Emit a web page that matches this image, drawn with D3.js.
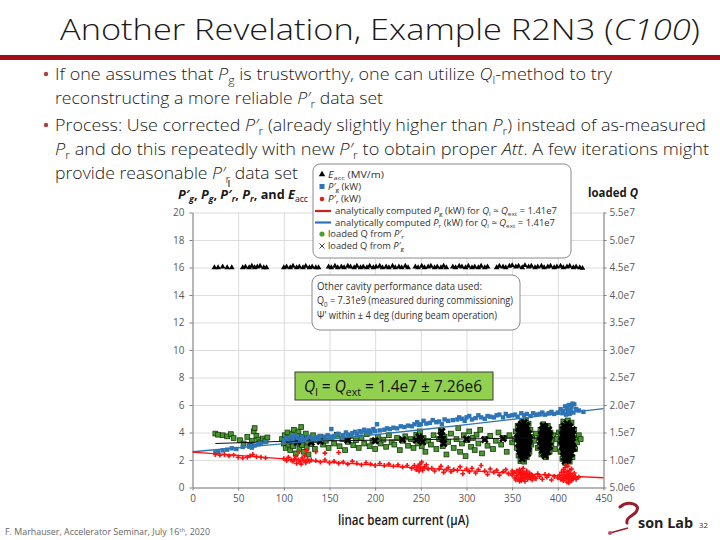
<!DOCTYPE html>
<html>
<head>
<meta charset="utf-8">
<script src="https://cdn.jsdelivr.net/npm/d3@7"></script>
<style>
  body { margin: 0; background: #fff; }
  svg { display: block; }
  .axis text { font-family: "Open Sans", sans-serif; font-size: 10px; fill: #595959; }
  .axis path, .axis line { stroke: #808080; }
  .grid line { stroke: #dcdcdc; }
  .grid path { display: none; }
</style>
</head>
<body>
<div id="slide"></div>
<script>
// tick values / labels
var xTicks = [0, 50, 100, 150, 200, 250, 300, 350, 400, 450];
var yLeftTicks = [0, 2, 4, 6, 8, 10, 12, 14, 16, 18, 20];
var yRightTicks = [0.5, 1, 1.5, 2, 2.5, 3, 3.5, 4, 4.5, 5, 5.5];   // loaded Q in units of 1e7
var yRightLabels = ["5.0e6", "1.0e7", "1.5e7", "2.0e7", "2.5e7", "3.0e7", "3.5e7", "4.0e7", "4.5e7", "5.0e7", "5.5e7"];

// analytic curves (kW), read at every 50 uA
var curveX = [0, 50, 100, 150, 200, 250, 300, 350, 400, 450];
var curvePg = [2.60, 2.89, 3.19, 3.51, 3.85, 4.20, 4.57, 4.95, 5.35, 5.74];
var curvePr = [2.58, 2.33, 2.08, 1.84, 1.62, 1.41, 1.22, 1.04, 0.87, 0.71];

// loaded Q trend line (1e7)
var qFit = [[25, 1.30], [100, 1.34], [250, 1.37], [385, 1.405]];

// Eacc (MV/m)
var eacc = [[24,16.0],[28,16.0],[33,16.05],[38,16.0],[43,16.0],
  [55,16.0],[58,16.05],[62,16.0],[65,16.1],[68,16.0],[71,16.05],[74,16.1],[78,16.0],[81,16.0],
  [100,16.0],[103,16.05],[107,16.0],[110,16.1],[114,16.0],[117,16.05],[121,16.0],[124,16.1],[128,16.0],[131,16.05],[135,16.0],[138,16.0],
  [149,16.05],[152,16.0],[156,16.1],[159,16.0],[163,16.05],[166,16.0],[170,16.1],[173,16.05],[177,16.0],[180,16.1],[184,16.0],[187,16.05],
  [191,16.0],[194,16.1],[198,16.0],[201,16.05],[205,16.1],[208,16.0],[212,16.05],[215,16.0],[219,16.1],[222,16.0],[226,16.05],[229,16.0],
  [233,16.1],[236,16.0],[244,16.05],[247,16.0],[251,16.1],[254,16.0],[258,16.05],[261,16.1],[265,16.0],[268,16.05],[272,16.0],[275,16.1],
  [278,16.0],[285,16.05],[288,16.0],[292,16.1],[295,16.05],[299,16.0],[302,16.1],[306,16.0],[309,16.05],[313,16.0],[316,16.1],[320,16.0],
  [323,16.05],[333,16.0],[336,16.1],[340,16.05],[343,16.0],[347,16.1],[350,16.15],[354,16.05],[357,16.1],[361,16.0],[364,16.15],[368,16.05],
  [371,16.1],[375,16.0],[378,16.05],[382,16.1],[385,16.0],[389,16.05],[392,16.1],[396,16.0],[399,16.05],[403,16.1],[406,16.0],[410,16.05],
  [413,16.1],[417,16.0],[420,16.05],[424,16.0],[427,15.95]];

// P'g (kW)
var pgPrime = [[25,2.55],[28,2.6],[33,2.7],[38,2.75],[43,2.85],[48,2.8],[55,2.95],[62,3.0],[65,2.9],[68,3.05],[72,3.15],[75,3.2],[80,3.3],
  [100,3.4],[102,3.6],[105,3.5],[108,3.7],[110,3.55],[112,3.8],[115,3.6],[118,3.5],[120,3.7],[122,3.45],[125,3.6],[128,3.7],[132,3.55],
  [135,3.65],[138,3.6],[140,3.75],[145,3.7],[148,3.8],[150,3.7],[152,4.25],[155,3.75],[160,3.9],[165,3.8],[168,4.0],[170,3.85],[175,3.95],
  [178,4.05],[180,3.9],[183,4.1],[185,4.0],[188,4.2],[190,4.05],[193,4.15],[195,4.0],[198,4.25],[200,4.1],[202,4.6],[205,4.15],[210,4.2],
  [213,4.3],[216,4.25],[220,4.35],[224,4.3],[228,4.45],[232,4.4],[236,4.5],[240,4.45],[243,4.6],[246,4.75],[248,4.55],[250,4.6],[253,4.85],
  [256,4.65],[260,4.7],[263,4.9],[267,4.75],[270,4.8],[273,4.6],[276,4.95],[280,4.85],[285,4.9],[290,4.95],[292,5.1],[295,5.0],[298,4.85],
  [300,5.1],[303,5.2],[306,4.95],[310,5.05],[313,5.25],[316,5.1],[320,5.0],[323,5.2],[326,5.15],[330,5.1],[333,5.25],[336,5.3],[340,5.1],
  [343,5.35],[346,5.2],[350,5.25],[353,5.3],[356,5.15],[360,5.4],[363,5.25],[366,5.35],[370,5.2],[373,5.4],[376,5.3],[380,5.35],[383,5.45],
  [386,5.3],[390,5.4],[393,5.5],[396,5.35],[400,5.45],[403,5.7],[405,5.4],[406,5.55],[408,5.9],[409,5.3],[410,5.75],[411,5.5],[412,6.0],
  [413,5.35],[414,5.65],[415,5.85],[416,6.1],[417,5.45],[418,6.05],[420,5.7],[423,5.6],[428,5.5]];

// P'r (kW)
var prPrime = [[25,2.4],[30,2.35],[35,2.4],[40,2.3],[45,2.35],[50,2.2],[55,2.15],[60,2.2],[63,2.3],[66,2.4],[70,2.25],[75,2.2],[80,2.15],
  [100,2.1],[103,1.95],[105,2.2],[108,2.0],[110,1.9],[112,2.1],[113,2.25],[114,1.75],[116,2.0],[117,2.6],[118,1.85],[119,1.7],[120,2.15],
  [122,1.95],[123,2.3],[124,1.8],[125,2.7],[126,2.05],[128,1.9],[130,2.0],[135,2.6],[145,2.5],[160,2.55],
  [135,1.95],[140,1.85],[145,2.0],[150,1.8],[155,1.9],[160,1.75],[165,1.85],[170,1.7],[175,1.9],[180,1.75],[185,1.65],[190,1.8],[195,1.7],
  [200,1.6],[205,1.75],[210,1.6],[215,1.7],[220,1.55],[225,1.65],[230,1.5],[235,1.6],
  [240,1.4],[243,1.6],[245,1.3],[247,1.55],[248,1.2],[249,1.7],[250,1.4],[251,1.85],[252,1.25],[254,1.5],[256,1.65],[258,1.35],
  [262,1.4],[265,1.2],[270,1.35],[272,1.55],[275,1.1],[278,1.3],[280,1.45],[283,1.15],[286,1.3],[290,1.25],[293,1.5],[296,1.0],[300,1.35],
  [303,1.15],[306,1.4],[310,1.05],[313,1.3],[316,1.6],[320,1.2],[323,0.95],[326,1.35],[330,1.1],[333,1.25],[336,0.9],[340,1.15],[343,1.3],
  [346,1.0],[350,1.2],
  [350,0.9],[352,1.1],[353,0.7],[355,1.2],[355,0.85],[357,0.6],[357,1.0],[358,1.3],[359,0.75],[360,0.5],[360,0.95],[361,1.15],[362,0.65],
  [363,0.85],[363,1.05],[364,0.45],[365,0.75],[366,1.2],[366,0.95],[367,0.6],[368,0.85],[369,1.05],[370,0.7],[371,0.9],[372,0.55],[374,0.8],
  [376,0.65],[362,1.4],[358,0.45],[354,0.55],[361,0.7],[365,1.0],[359,1.1],[367,0.8],
  [372,0.9],[375,0.7],[378,1.0],[380,0.8],[383,0.6],[386,0.95],[388,0.75],[390,0.9],[393,0.55],[396,0.8],[400,0.7],
  [402,0.9],[403,0.6],[404,1.1],[405,0.75],[406,1.3],[406,0.5],[407,0.95],[408,1.45],[408,0.65],[409,0.8],[410,1.15],[410,0.4],[411,1.55],
  [411,0.9],[412,0.6],[413,1.25],[413,0.75],[414,1.0],[415,0.5],[415,1.35],[416,0.85],[417,0.65],[418,1.05],[419,0.8],[420,0.6],[409,1.6],
  [412,0.35],[410,0.7],[414,0.6],[407,1.1],[412,1.0],[420,0.7],[423,0.75]];

// loaded Q from P'r (1e7)
var qFromPr = [[25,1.48],[28,1.46],[33,1.45],[38,1.43],[42,1.47],[45,1.40],[52,1.36],[56,1.30],[60,1.42],[63,1.26],[65,1.35],[67,1.52],
  [68,1.58],[70,1.44],[72,1.37],[74,1.32],[77,1.39],[80,1.35],[82,1.41],
  [98,1.38],[100,1.30],[101,1.45],[102,1.22],[103,1.36],[104,1.50],[105,1.28],[106,1.41],[107,1.18],[108,1.33],[109,1.47],[110,1.25],
  [111,1.55],[112,1.38],[113,1.12],[114,1.30],[115,1.44],[116,1.52],[117,1.20],[118,1.35],[119,1.60],[120,1.27],[121,1.42],[122,1.15],
  [123,1.37],[124,1.48],[125,1.23],[126,1.33],[127,1.10],[128,1.40],[130,1.29],[132,1.45],[134,1.20],[136,1.36],
  [140,1.42],[143,1.28],[146,1.35],[149,1.22],[152,1.40],[155,1.30],[158,1.46],[161,1.25],[164,1.38],[167,1.18],[170,1.33],[173,1.44],
  [176,1.27],[179,1.36],[182,1.22],[185,1.40],[188,1.30],[191,1.47],[194,1.25],[197,1.35],[200,1.20],[203,1.42],[206,1.30],[209,1.37],
  [212,1.24],[215,1.45],[218,1.32],[221,1.28],[224,1.40],[227,1.18],[230,1.35],[233,1.43],[236,1.26],[239,1.38],[242,1.22],[245,1.46],
  [247,1.30],[249,1.52],[251,1.25],[253,1.40],[255,1.15],
  [258,1.35],[261,1.28],[264,1.45],[267,1.20],[270,1.38],[272,1.55],[274,1.25],[276,1.42],[278,1.10],[280,1.33],[283,1.48],[286,1.22],
  [289,1.38],[291,1.58],[293,1.15],[295,1.30],[297,1.45],[299,1.07],[301,1.36],[303,1.52],[305,1.24],[307,1.40],[309,1.18],[311,1.46],
  [313,1.30],[315,1.55],[317,1.12],[320,1.38],[323,1.26],[326,1.44],[329,1.20],[332,1.35],[335,1.50],[338,1.28],[341,1.40],[344,1.15],
  [347,1.45],[350,1.32],
  [353,1.38],[354,1.52],[355,1.22],[356,1.62],[357,1.08],[359,0.98],[361,1.70],[363,0.97],[366,1.05],[368,1.66],[369,1.15],[370,1.55],
  [371,1.28],[372,1.42],[365,1.72],
  [374,1.35],[376,1.48],[378,1.22],[380,1.40],[393,1.30],[395,1.45],[397,1.20],[399,1.38],[401,1.50],
  [380,1.25],[381,1.55],[382,1.10],[384,1.65],[387,1.05],[389,1.62],[391,1.15],[392,1.50],[393,1.35],
  [402,1.30],[403,1.48],[403,1.15],[404,1.60],[405,1.02],[406,1.70],[408,0.95],[411,1.72],[413,0.97],[415,1.68],[416,1.05],[418,1.55],
  [419,1.20],[419,1.40],[421,1.32],[423,1.45],[425,1.38]];

// loaded Q from P'g (1e7)
var qFromPg = [[105,1.35],[115,1.33],[120,1.38],[130,1.32],[140,1.34],[170,1.36],[200,1.35],[230,1.37],[245,1.36],[248,1.42],[250,1.38],
  [252,1.33],[272,1.45],[273,1.52],[274,1.38],[275,1.30],[300,1.38],[320,1.37],[340,1.39],
  [356,1.40],[357,1.30],[357,1.50],[358,1.20],[358,1.60],[359,1.35],[359,1.45],[360,1.10],[360,1.25],[360,1.55],[360,1.65],[361,1.38],
  [361,1.02],[362,1.15],[362,1.30],[362,1.48],[362,1.60],[363,1.42],[363,1.22],[364,1.08],[364,1.35],[364,1.55],[365,1.28],[365,1.50],
  [366,1.18],[366,1.42],[366,1.62],[367,1.32],[368,1.25],[368,1.48],[369,1.38],[367,1.12],[363,1.68],[361,1.52],[359,1.25],
  [358,1.38],[359,1.55],[360,1.40],[360,1.32],[361,1.20],[361,1.62],[362,1.08],[362,1.40],[363,1.52],[363,1.32],[364,1.18],[364,1.45],
  [365,1.62],[365,1.38],[366,1.28],[366,1.52],[367,1.42],[367,1.22],[368,1.35],[359,1.15],[357,1.40],[360,1.48],[365,1.12],
  [381,1.35],[382,1.45],[382,1.25],[383,1.55],[383,1.18],[384,1.38],[385,1.30],[385,1.50],[385,1.12],[386,1.42],[386,1.60],[387,1.22],
  [387,1.35],[388,1.48],[388,1.28],[389,1.40],[389,1.15],[390,1.55],[390,1.33],[391,1.25],[391,1.45],[384,1.62],[386,1.08],
  [382,1.35],[383,1.28],[383,1.45],[384,1.20],[384,1.50],[385,1.40],[386,1.25],[387,1.52],[387,1.15],[388,1.38],[389,1.30],[389,1.50],
  [390,1.42],[385,1.58],[386,1.33],
  [404,1.35],[405,1.45],[405,1.25],[406,1.55],[406,1.15],[407,1.40],[407,1.62],[407,1.05],[408,1.30],[408,1.50],[409,1.20],[409,1.38],
  [410,1.66],[410,1.10],[410,1.45],[411,1.28],[411,1.55],[411,1.00],[412,1.35],[412,1.18],[413,1.48],[413,1.60],[414,1.25],[414,1.40],
  [415,1.12],[415,1.52],[416,1.33],[416,1.45],[417,1.22],[409,1.58],[412,1.05],[408,0.98],
  [405,1.35],[406,1.45],[406,1.28],[407,1.50],[407,1.20],[408,1.40],[408,1.60],[408,1.12],[409,1.30],[409,1.48],[410,1.35],[410,1.55],
  [410,1.22],[411,1.40],[411,1.15],[412,1.45],[412,1.62],[412,1.28],[413,1.38],[413,1.10],[414,1.50],[414,1.32],[415,1.42],[415,1.22],
  [416,1.55],[409,1.05],[410,1.02]];

var svg = d3.select("#slide").append("svg")
  .attr("width", 720)
  .attr("height", 540);

var font = '"Open Sans", sans-serif';

// writes a line of text with italic / subscript / superscript pieces
function richText(parent, px, py, size, segs, len, extra) {
  var t = parent.append("text")
    .attr("x", px).attr("y", py)
    .style("font-family", font)
    .style("font-size", size + "px");
  if (extra) t.style("font-weight", extra.weight || 400).style("fill", extra.fill || "#1a1a1a");
  else t.style("fill", "#1a1a1a");
  var shift = 0;
  segs.forEach(function(s) {
    var st = s[1] || "";
    var ts = t.append("tspan").text(s[0]);
    var isSub = st.indexOf("sub") >= 0, isSup = st.indexOf("sup") >= 0;
    var target = isSub ? size * 0.25 : (isSup ? -size * 0.38 : 0);
    if (target !== shift) { ts.attr("dy", target - shift); shift = target; }
    if (isSub || isSup) ts.style("font-size", (size * 0.68) + "px");
    if (st.indexOf("it") >= 0) ts.style("font-style", "italic");
    if (st.indexOf("b") === 0) ts.style("font-weight", 700);
  });
  if (len) t.attr("textLength", len).attr("lengthAdjust", "spacingAndGlyphs");
  return t;
}

// slide title and red rule
richText(svg, 60, 40, 30, [["Another Revelation, Example R2N3 ("], ["C100", "it"], [")"]], 640, {weight: 300});
svg.append("rect").attr("x", 0).attr("y", 55).attr("width", 720).attr("height", 5).attr("fill", "#a50e16");

// bullets
[80, 131].forEach(function(by) {
  svg.append("circle").attr("cx", 46).attr("cy", by - 6).attr("r", 2.2).attr("fill", "#b04040");
});
richText(svg, 55, 80, 17, [["If one assumes that "], ["P", "it"], ["g", "sub"], [" is trustworthy, one can utilize "], ["Q", "it"], ["l", "sub"], ["-method to try"]], 557, {weight: 300});
richText(svg, 55, 104, 17, [["reconstructing a more reliable "], ["P′", "it"], ["r", "sub"], [" data set"]], 328, {weight: 300});
richText(svg, 55, 131, 17, [["Process: Use corrected "], ["P′", "it"], ["r", "sub"], [" (already slightly higher than "], ["P", "it"], ["r", "sub"], [") instead of as-measured"]], 651, {weight: 300});
richText(svg, 55, 155, 17, [["P", "it"], ["r", "sub"], [" and do this repeatedly with new "], ["P′", "it"], ["r", "sub"], [" to obtain proper "], ["Att", "it"], [". A few iterations might"]], 654, {weight: 300});
richText(svg, 55, 179, 17, [["provide reasonable "], ["P′", "it"], ["r", "sub"], [" data set"]], 243, {weight: 300});

// scales
var x = d3.scaleLinear().domain([0, 450]).range([192.5, 603.5]);
var yL = d3.scaleLinear().domain([0, 20]).range([487.5, 212.5]);
var yR = d3.scaleLinear().domain([0.5, 5.5]).range([487.5, 212.5]);

// gridlines
svg.append("g").attr("class", "grid")
  .attr("transform", "translate(0,487.5)")
  .call(d3.axisBottom(x).tickValues(xTicks).tickSize(-275).tickFormat(""));
svg.append("g").attr("class", "grid")
  .attr("transform", "translate(192.5,0)")
  .call(d3.axisLeft(yL).tickValues(yLeftTicks).tickSize(-411).tickFormat(""));

// axes
svg.append("g").attr("class", "axis")
  .attr("transform", "translate(0,487.5)")
  .call(d3.axisBottom(x).tickValues(xTicks).tickSize(3).tickPadding(4).tickSizeOuter(0));
svg.append("g").attr("class", "axis")
  .attr("transform", "translate(192.5,0)")
  .call(d3.axisLeft(yL).tickValues(yLeftTicks).tickSize(3).tickPadding(5).tickSizeOuter(0));
svg.append("g").attr("class", "axis")
  .attr("transform", "translate(603.5,0)")
  .call(d3.axisRight(yR).tickValues(yRightTicks).tickSize(3).tickPadding(3).tickSizeOuter(0)
    .tickFormat(function(d, i) { return yRightLabels[i]; }));

var plot = svg.append("g");

// loaded Q from P'r : green
plot.selectAll(".qpr").data(qFromPr).enter().append("rect")
  .attr("x", function(d) { return x(d[0]) - 2.4; })
  .attr("y", function(d) { return yR(d[1]) - 2.4; })
  .attr("width", 4.8).attr("height", 4.8)
  .attr("fill", "#4a9630").attr("stroke", "#173a0c").attr("stroke-width", 0.8);

// loaded Q from P'g : black x
plot.selectAll(".qpg").data(qFromPg).enter().append("path")
  .attr("transform", function(d) { return "translate(" + x(d[0]) + "," + yR(d[1]) + ")"; })
  .attr("d", "M-3,-3L3,3M-3,3L3,-3")
  .attr("stroke", "#000").attr("stroke-width", 2.6);

// loaded Q trend
plot.append("path").datum(qFit)
  .attr("fill", "none").attr("stroke", "#111").attr("stroke-width", 1)
  .attr("d", d3.line().x(function(d) { return x(d[0]); }).y(function(d) { return yR(d[1]); }));

// P'g : blue squares
plot.selectAll(".pg").data(pgPrime).enter().append("rect")
  .attr("x", function(d) { return x(d[0]) - 2.2; })
  .attr("y", function(d) { return yL(d[1]) - 2.2; })
  .attr("width", 4.4).attr("height", 4.4)
  .attr("fill", "#2e75b6");

var curveLine = d3.line()
  .x(function(d, i) { return x(curveX[i]); })
  .y(function(d) { return yL(d); });

plot.append("path").datum(curvePg)
  .attr("fill", "none").attr("stroke", "#2e75b6").attr("stroke-width", 1.3)
  .attr("d", curveLine);

// P'r : red
plot.selectAll(".pr").data(prPrime).enter().append("path")
  .attr("transform", function(d) { return "translate(" + x(d[0]) + "," + yL(d[1]) + ")"; })
  .attr("d", d3.symbol().type(d3.symbolCross).size(13))
  .attr("fill", "#ff1010");

plot.append("path").datum(curvePr)
  .attr("fill", "none").attr("stroke", "#ff1010").attr("stroke-width", 1.3)
  .attr("d", curveLine);

// Eacc triangles
plot.selectAll(".eacc").data(eacc).enter().append("path")
  .attr("transform", function(d) { return "translate(" + x(d[0]) + "," + yL(d[1]) + ")"; })
  .attr("d", d3.symbol().type(d3.symbolTriangle).size(14))
  .attr("fill", "#000");

// chart titles
richText(svg, 178, 199, 13, [["P′", "bit"], ["g", "bitsub"], [", ", "b"], ["P", "bit"], ["g", "bitsub"], [", ", "b"], ["P′", "bit"], ["r", "bitsub"], [", ", "b"], ["P", "bit"], ["r", "bitsub"], [", and ", "b"], ["E", "bit"], ["acc", "sub"]], 130);
richText(svg, 588, 197, 13, [["loaded ", "b"], ["Q", "bit"]], 50);
svg.append("line").attr("x1", 229).attr("x2", 229).attr("y1", 180).attr("y2", 187).attr("stroke", "#222").attr("stroke-width", 1);

// legend box
var lg = svg.append("g");
lg.append("rect").attr("x", 313).attr("y", 164).attr("width", 258).attr("height", 94).attr("rx", 7)
  .attr("fill", "#fff").attr("stroke", "#8a8a8a").attr("stroke-width", 1);
var lgRows = [174.5, 186.5, 199, 211, 222.5, 234, 246];
lg.append("path").attr("transform", "translate(322," + lgRows[0] + ")").attr("d", d3.symbol().type(d3.symbolTriangle).size(18)).attr("fill", "#000");
lg.append("rect").attr("x", 319.5).attr("y", lgRows[1] - 2.5).attr("width", 5).attr("height", 5).attr("fill", "#2e75b6");
lg.append("circle").attr("cx", 322).attr("cy", lgRows[2]).attr("r", 2.3).attr("fill", "#e02020");
lg.append("line").attr("x1", 315).attr("x2", 331).attr("y1", lgRows[3]).attr("y2", lgRows[3]).attr("stroke", "#d02020").attr("stroke-width", 2.2);
lg.append("line").attr("x1", 315).attr("x2", 331).attr("y1", lgRows[4]).attr("y2", lgRows[4]).attr("stroke", "#2e75b6").attr("stroke-width", 2.2);
lg.append("circle").attr("cx", 322).attr("cy", lgRows[5]).attr("r", 2.6).attr("fill", "#4f9c32");
lg.append("path").attr("transform", "translate(322," + lgRows[6] + ")").attr("d", "M-2.5,-2.5L2.5,2.5M-2.5,2.5L2.5,-2.5").attr("stroke", "#444").attr("stroke-width", 1);
var lgGrey = {weight: 400, fill: "#333"};
richText(lg, 328, lgRows[0] + 3, 9, [["E", "it"], ["acc", "sub"], [" (MV/m)"]], 56, lgGrey);
richText(lg, 328, lgRows[1] + 3, 9, [["P′", "it"], ["g", "sub"], [" (kW)"]], 33, lgGrey);
richText(lg, 328, lgRows[2] + 3, 9, [["P′", "it"], ["r", "sub"], [" (kW)"]], 33, lgGrey);
richText(lg, 335, lgRows[3] + 3, 9, [["analytically computed "], ["P", "it"], ["g", "sub"], [" (kW) for "], ["Q", "it"], ["l", "sub"], [" ≈ "], ["Q", "it"], ["ext", "sub"], [" = 1.41e7"]], 222, lgGrey);
richText(lg, 335, lgRows[4] + 3, 9, [["analytically computed "], ["P", "it"], ["r", "sub"], [" (kW) for "], ["Q", "it"], ["l", "sub"], [" ≈ "], ["Q", "it"], ["ext", "sub"], [" = 1.41e7"]], 220, lgGrey);
richText(lg, 328, lgRows[5] + 3, 9, [["loaded Q from "], ["P′", "it"], ["r", "sub"]], 76, lgGrey);
richText(lg, 328, lgRows[6] + 3, 9, [["loaded Q from "], ["P′", "it"], ["g", "sub"]], 76, lgGrey);

// other cavity data box
var ob = svg.append("g");
ob.append("rect").attr("x", 312).attr("y", 275).attr("width", 208).attr("height", 55).attr("rx", 8)
  .attr("fill", "#fff").attr("stroke", "#8a8a8a").attr("stroke-width", 1);
richText(ob, 317, 290, 10, [["Other cavity performance data used:"]], 165, lgGrey);
richText(ob, 317, 304, 10, [["Q"], ["0", "sub"], [" = 7.31e9 (measured during commissioning)"]], 196, lgGrey);
richText(ob, 317, 319, 10, [["Ψ' within ± 4 deg (during beam operation)"]], 180, lgGrey);

// green Ql box
svg.append("rect").attr("x", 295).attr("y", 372).attr("width", 198).attr("height", 28)
  .attr("fill", "#92d050").attr("stroke", "#3a3a3a").attr("stroke-width", 1);
richText(svg, 304, 392, 16, [["Q", "it"], ["l", "sub"], [" = "], ["Q", "it"], ["ext", "sub"], [" = 1.4e7 ± 7.26e6"]], 178, {weight: 400, fill: "#111"});

// x axis title
richText(svg, 338, 525, 14, [["linac beam current (μA)"]], 131, {weight: 600, fill: "#1a1a1a"});

// footer
richText(svg, 5, 535, 8.5, [["F. Marhauser, Accelerator Seminar, July 16"], ["th", "sup"], [", 2020"]], 205, {weight: 400, fill: "#666"});
richText(svg, 699, 528, 8, [["32"]], 9, {weight: 400, fill: "#333"});

// lab logo
svg.append("path").attr("d", "M620,507 C628,500 642,504 636,512 C632,517 626,517 627,523")
  .attr("fill", "none").attr("stroke", "#9c1c2c").attr("stroke-width", 3).attr("stroke-linecap", "round");
svg.append("line").attr("x1", 610).attr("y1", 533).attr("x2", 628).attr("y2", 528).attr("stroke", "#9c1c2c").attr("stroke-width", 1.8);
svg.append("circle").attr("cx", 610).attr("cy", 533).attr("r", 2).attr("fill", "#c0506a");
richText(svg, 638, 528, 15, [["son Lab"]], 55, {weight: 700, fill: "#222"});
</script>
</body>
</html>
